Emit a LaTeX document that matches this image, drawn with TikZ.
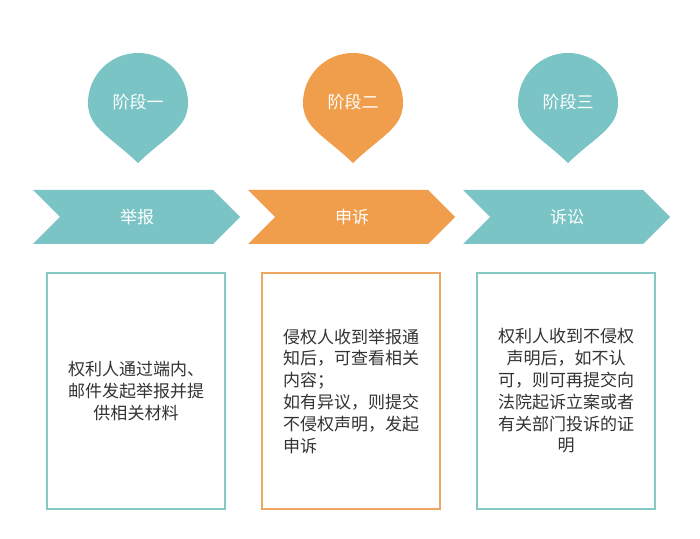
\documentclass[tikz,border=0pt]{standalone}
\usepackage{fontspec}
\newfontfamily\cjk{Noto Sans CJK SC}
\definecolor{tealfill}{HTML}{7BC4C5}
\definecolor{orangefill}{HTML}{F19E4C}
\definecolor{tealline}{HTML}{86C9C3}
\definecolor{orangeline}{HTML}{EDA760}
\definecolor{textgray}{HTML}{333333}

\begin{document}
\begin{tikzpicture}[
    x=0.5pt, y=-0.5pt,
    font=\cjk\fontsize{8.5pt}{10.9pt}\selectfont,
    every node/.style={inner sep=0pt},
    pinlbl/.style ={text=white},
    steplbl/.style={text=white},
    box/.style    ={draw, line width=1.4pt, fill=white,
                    minimum width=89pt, minimum height=118pt,
                    text=textgray},
  ]
  \useasboundingbox[fill=white] (0,0) rectangle (700,539);

  %% =====================================================================
  %% Stage 1
  %% =====================================================================
  \begin{scope}
    % pin
    \fill[tealfill] (138,163) .. controls (110,136) and (88,128) .. (88,103)
        .. controls (88,75.4) and (110.4,53) .. (138,53)
        .. controls (165.6,53) and (188,75.4) .. (188,103)
        .. controls (188,128) and (166,136) .. (138,163) -- cycle;
    \node[pinlbl] (pinA) at (138,102) {阶段一};
    % chevron
    \fill[tealfill] (33,190) -- (213,190) -- (240,217) -- (213,244)
        -- (33,244) -- (60,217) -- cycle;
    \node[steplbl] (stepA) at (137,217) {举报};
    % description
    \node[box, draw=tealline, align=center] (boxA) at (136,391)
          {权利人通过端内、\\邮件发起举报并提\\供相关材料};
  \end{scope}

  %% =====================================================================
  %% Stage 2
  %% =====================================================================
  \begin{scope}[shift={(215,0)}]
    \fill[orangefill] (138,163) .. controls (110,136) and (88,128) .. (88,103)
        .. controls (88,75.4) and (110.4,53) .. (138,53)
        .. controls (165.6,53) and (188,75.4) .. (188,103)
        .. controls (188,128) and (166,136) .. (138,163) -- cycle;
    \node[pinlbl] (pinB) at (138,102) {阶段二};
    \fill[orangefill] (33,190) -- (213,190) -- (240,217) -- (213,244)
        -- (33,244) -- (60,217) -- cycle;
    \node[steplbl] (stepB) at (137,217) {申诉};
    \node[box, draw=orangeline, align=left] (boxB) at (136,391)
          {侵权人收到举报通\\知后，可查看相关\\内容；\\如有异议，则提交\\不侵权声明，发起\\申诉};
  \end{scope}

  %% =====================================================================
  %% Stage 3
  %% =====================================================================
  \begin{scope}[shift={(430,0)}]
    \fill[tealfill] (138,163) .. controls (110,136) and (88,128) .. (88,103)
        .. controls (88,75.4) and (110.4,53) .. (138,53)
        .. controls (165.6,53) and (188,75.4) .. (188,103)
        .. controls (188,128) and (166,136) .. (138,163) -- cycle;
    \node[pinlbl] (pinC) at (138,102) {阶段三};
    \fill[tealfill] (33,190) -- (213,190) -- (240,217) -- (213,244)
        -- (33,244) -- (60,217) -- cycle;
    \node[steplbl] (stepC) at (137,217) {诉讼};
    \node[box, draw=tealline, align=center] (boxC) at (136,391)
          {权利人收到不侵权\\声明后，如不认\\可，则可再提交向\\法院起诉立案或者\\有关部门投诉的证\\明};
  \end{scope}

\end{tikzpicture}
\end{document}
